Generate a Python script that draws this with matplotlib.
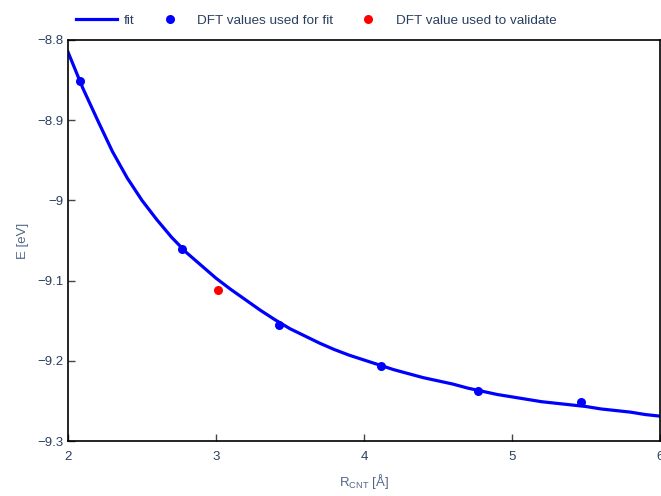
import numpy as np
import matplotlib
matplotlib.use("Agg")
import matplotlib.pyplot as plt

# fit curve
fit_r = [2.0, 2.1, 2.2, 2.3, 2.4, 2.5, 2.6, 2.7, 2.8, 2.9, 3.0, 3.1, 3.2, 3.3, 3.4,
         3.5, 3.6, 3.7, 3.8, 3.9, 4.0, 4.1, 4.2, 4.3, 4.4, 4.5, 4.6, 4.7, 4.8, 4.9,
         5.0, 5.1, 5.2, 5.3, 5.4, 5.5, 5.6, 5.7, 5.8, 5.9, 6.0]
fit_e = [-8.815, -8.860, -8.900, -8.939, -8.972, -9.000, -9.024, -9.046, -9.065, -9.081,
         -9.097, -9.111, -9.124, -9.137, -9.149, -9.160, -9.169, -9.178, -9.186, -9.193,
         -9.199, -9.205, -9.211, -9.216, -9.221, -9.225, -9.229, -9.234, -9.238, -9.242,
         -9.245, -9.248, -9.251, -9.253, -9.255, -9.257, -9.260, -9.262, -9.264, -9.267,
         -9.269]

# DFT points
dft_r = [2.081, 2.77, 3.426, 4.115, 4.77, 5.466]
dft_e = [-8.851, -9.061, -9.155, -9.206, -9.238, -9.251]
val_r = [3.014]
val_e = [-9.112]

xticks = [2, 3, 4, 5, 6]
yticks = [-8.8, -8.9, -9.0, -9.1, -9.2, -9.3]
ytick_labels = ["\u22128.8", "\u22128.9", "\u22129", "\u22129.1", "\u22129.2", "\u22129.3"]

txt = "#2a3f5f"
plt.rcParams['font.family'] = ['Liberation Sans', 'DejaVu Sans']

fig = plt.figure(figsize=(6.61, 4.96), dpi=100)
ax = fig.add_axes([68/661, 55/496, 592/661, 401/496])

ax.plot(fit_r, fit_e, color="#0000ff", lw=2.3, label="fit", zorder=2)
ax.plot(dft_r, dft_e, "o", color="#0000ff", ms=6.5, mec="none", label="DFT values used for fit", zorder=3)
ax.plot(val_r, val_e, "o", color="#ff0000", ms=6.5, mec="none", label="DFT value used to validate", zorder=3)

ax.set_xlim(2, 6)
ax.set_ylim(-9.3, -8.8)
ax.set_xticks(xticks)
ax.set_xticklabels([str(t) for t in xticks])
ax.set_yticks(yticks)
ax.set_yticklabels(ytick_labels)
ax.tick_params(direction="in", length=5, width=1, colors="#444444", labelcolor=txt,
               labelsize=9.5, top=False, right=False)
ax.tick_params(axis="x", pad=7)
ax.tick_params(axis="y", pad=3)
for s in ax.spines.values():
    s.set_color("black")
    s.set_linewidth(1.2)

ax.set_xlabel(r"R$_{\mathregular{CNT}}$ [Å]", color="#506784", fontsize=9.5, labelpad=7)
ax.set_ylabel("E [eV]", color="#506784", fontsize=9.5, labelpad=6)

fig.legend(loc="center left", bbox_to_anchor=(76/661, 1 - 21/496), ncol=3, frameon=False,
           fontsize=9.7, handlelength=3.05, handletextpad=0.52, columnspacing=1.07,
           borderaxespad=0, borderpad=0, labelcolor=txt)

fig.savefig("out.png", dpi=100)
